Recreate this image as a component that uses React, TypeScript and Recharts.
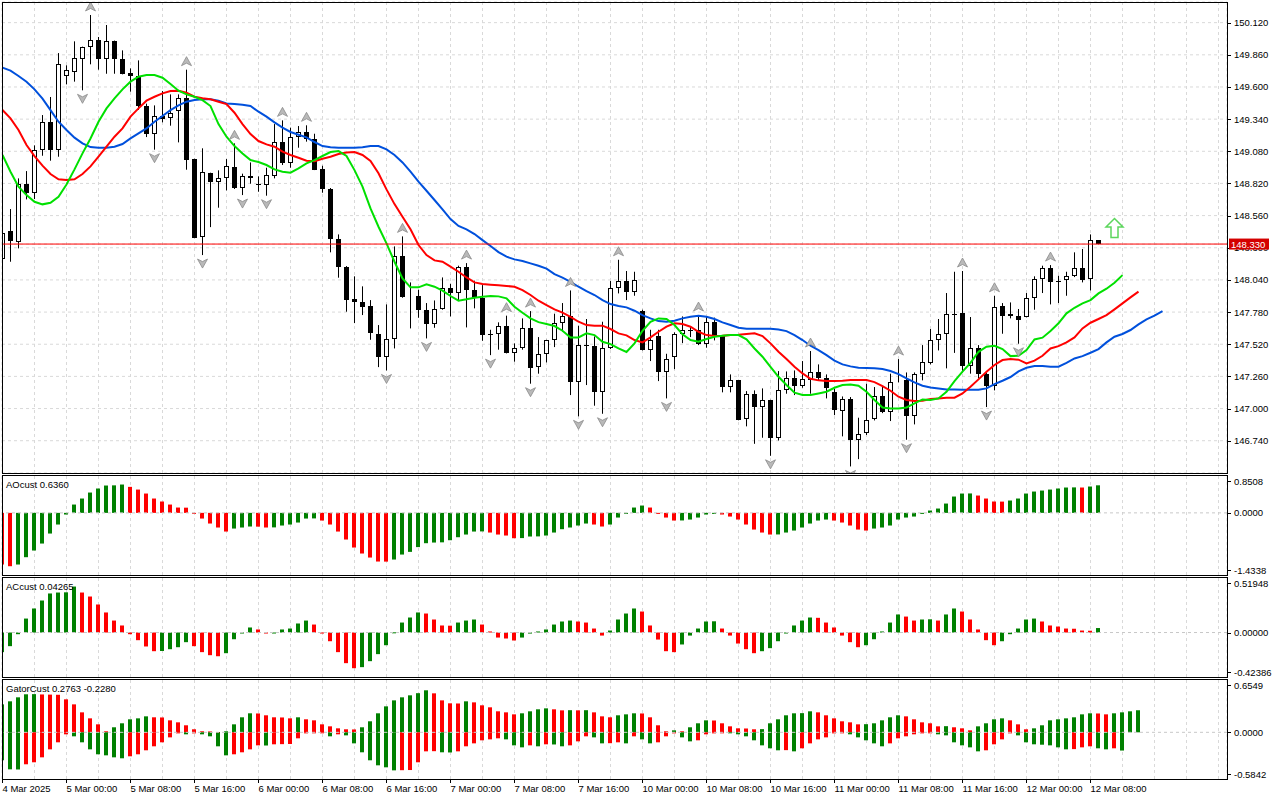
import React from 'react';
import {
  ComposedChart,
  Bar,
  Line,
  Scatter,
  XAxis,
  YAxis,
  CartesianGrid,
  ReferenceLine,
  Cell
} from 'recharts';

// USDJPY-like H1 candles, 4 Mar 16:00 .. 12 Mar 09:00
const opens = [
  148.21, 148.438, 148.343, 148.812, 148.74, 149.087, 149.314, 149.087, 149.691, 149.724,
  149.823, 149.92, 149.977, 149.823, 149.969, 149.823, 149.713, 149.686, 149.449, 149.222,
  149.368, 149.346, 149.405, 149.508, 149.017, 148.387, 148.904, 148.829, 148.861, 148.953,
  148.786, 148.877, 148.818, 148.804, 148.877, 149.152, 148.988, 149.195, 149.233, 149.179,
  148.937, 148.778, 148.368, 148.147, 147.883, 147.861, 147.829, 147.602, 147.414, 147.559,
  148.23, 147.904, 147.912, 147.794, 147.686, 147.805, 147.972, 147.931, 148.144, 147.955,
  147.896, 147.6, 147.6, 147.67, 147.449, 147.492, 147.648, 147.335, 147.438, 147.551,
  147.691, 147.751, 147.217, 147.513, 147.508, 147.131, 147.486, 147.972, 148.031, 147.945,
  147.788, 147.476, 147.583, 147.292, 147.414, 147.605, 147.637, 147.632, 147.519, 147.697,
  147.589, 147.174, 147.228, 146.915, 147.12, 147.012, 147.066, 146.759, 147.147, 147.249,
  147.179, 147.233, 147.292, 147.249, 147.131, 146.98, 147.077, 146.742, 146.802, 146.915,
  147.104, 146.969, 147.217, 147.228, 146.937, 147.282, 147.368, 147.551, 147.6, 147.767,
  147.772, 147.346, 147.486, 147.282, 147.185, 147.826, 147.751, 147.751, 147.74, 147.891,
  148.047, 148.133, 148.031, 148.036, 148.069, 148.139, 148.047, 148.36
];
const highs = [
  148.43, 148.613, 148.861, 148.92, 149.128, 149.373, 149.519, 149.874, 149.775, 149.969,
  149.926, 150.182, 150.004, 150.101, 149.975, 149.896, 149.75, 149.815, 149.465, 149.451,
  149.567, 149.54, 149.54, 149.74, 149.02, 149.104, 148.907, 148.926, 149.017, 149.144,
  148.899, 148.99, 148.877, 148.947, 149.3, 149.33, 149.271, 149.284, 149.29, 149.222,
  148.963, 148.783, 148.408, 148.152, 148.069, 147.988, 147.877, 147.675, 147.842, 148.311,
  148.392, 148.02, 147.961, 147.853, 147.874, 148.06, 148.009, 148.155, 148.176, 148.034,
  147.998, 147.637, 147.697, 147.751, 147.527, 147.729, 147.788, 147.578, 147.556, 147.767,
  147.853, 147.955, 147.67, 147.724, 147.583, 147.702, 148.031, 148.203, 148.112, 148.106,
  147.799, 147.637, 147.637, 147.443, 147.616, 147.745, 147.659, 147.756, 147.74, 147.735,
  147.595, 147.276, 147.232, 147.141, 147.147, 147.163, 147.071, 147.303, 147.3, 147.308,
  147.384, 147.465, 147.357, 147.276, 147.158, 147.098, 147.093, 146.926, 147.201, 147.174,
  147.179, 147.282, 147.4, 147.292, 147.292, 147.513, 147.643, 147.724, 147.934, 148.106,
  148.112, 147.74, 147.513, 147.29, 147.912, 147.853, 147.858, 147.805, 147.934, 148.069,
  148.155, 148.16, 148.074, 148.106, 148.263, 148.29, 148.408, 148.362
];
const lows = [
  148.2, 148.187, 148.295, 148.691, 148.694, 149.044, 149.004, 149.036, 149.621, 149.643,
  149.573, 149.783, 149.74, 149.707, 149.707, 149.702, 149.562, 149.414, 149.195, 149.093,
  149.314, 149.287, 149.152, 148.931, 148.378, 148.241, 148.467, 148.624, 148.764, 148.775,
  148.726, 148.818, 148.753, 148.721, 148.861, 148.969, 148.947, 149.109, 149.158, 148.928,
  148.745, 148.263, 148.058, 147.783, 147.691, 147.756, 147.556, 147.335, 147.308, 147.486,
  147.896, 147.648, 147.734, 147.567, 147.653, 147.799, 147.745, 147.877, 147.656, 147.81,
  147.548, 147.432, 147.476, 147.446, 147.379, 147.476, 147.201, 147.282, 147.373, 147.497,
  147.621, 147.109, 146.937, 147.19, 147.023, 146.958, 147.481, 147.931, 147.877, 147.912,
  147.47, 147.384, 147.222, 147.082, 147.319, 147.529, 147.578, 147.513, 147.492, 147.551,
  147.131, 147.131, 146.905, 146.856, 146.715, 146.764, 146.618, 146.742, 147.12, 147.109,
  147.168, 147.12, 147.228, 147.082, 146.947, 146.775, 146.532, 146.591, 146.786, 146.904,
  146.963, 146.899, 147.212, 146.748, 146.872, 147.228, 147.357, 147.47, 147.325, 147.45,
  147.292, 147.282, 147.244, 147.012, 147.147, 147.605, 147.729, 147.524, 147.737, 147.799,
  147.934, 147.842, 147.853, 147.912, 148.063, 148.02, 147.955, 148.328
];
const closes = [
  148.42, 148.352, 148.812, 148.74, 149.093, 149.314, 149.093, 149.783, 149.734, 149.831,
  149.92, 149.977, 149.829, 149.969, 149.823, 149.707, 149.686, 149.449, 149.222, 149.368,
  149.338, 149.392, 149.508, 149.012, 148.381, 148.91, 148.834, 148.861, 148.958, 148.786,
  148.877, 148.866, 148.812, 148.888, 149.152, 148.988, 149.195, 149.233, 149.179, 148.931,
  148.778, 148.368, 148.147, 147.877, 147.858, 147.823, 147.608, 147.414, 147.559, 148.23,
  147.904, 147.912, 147.794, 147.686, 147.802, 147.972, 147.931, 148.144, 147.955, 147.896,
  147.591, 147.591, 147.67, 147.449, 147.486, 147.648, 147.33, 147.438, 147.551, 147.691,
  147.751, 147.217, 147.513, 147.508, 147.131, 147.486, 147.972, 148.031, 147.945, 148.036,
  147.473, 147.551, 147.292, 147.4, 147.605, 147.637, 147.632, 147.519, 147.697, 147.589,
  147.174, 147.228, 146.91, 147.12, 147.012, 147.066, 146.759, 147.147, 147.249, 147.179,
  147.238, 147.292, 147.249, 147.163, 146.985, 147.077, 146.742, 146.796, 146.91, 147.104,
  146.974, 147.217, 147.225, 146.937, 147.282, 147.373, 147.551, 147.6, 147.767, 147.761,
  147.346, 147.486, 147.282, 147.185, 147.821, 147.751, 147.767, 147.713, 147.891, 148.047,
  148.133, 148.025, 148.025, 148.069, 148.139, 148.042, 148.36, 148.33
];

// Alligator lines as drawn (already shifted forward: jaw 8, teeth 5, lips 3)
const jaw = [
  149.756, 149.732, 149.689, 149.643, 149.581, 149.505, 149.413, 149.319, 149.252, 149.19,
  149.144, 149.114, 149.109, 149.109, 149.117, 149.139, 149.184, 149.225, 149.265, 149.319,
  149.365, 149.413, 149.451, 149.481, 149.494, 149.5, 149.5, 149.489, 149.467, 149.462,
  149.457, 149.446, 149.4, 149.36, 149.314, 149.271, 149.236, 149.214, 149.193, 149.155,
  149.122, 149.112, 149.109, 149.109, 149.109, 149.112, 149.122, 149.122, 149.095, 149.05,
  148.99, 148.915, 148.834, 148.761, 148.686, 148.61, 148.532, 148.476, 148.449, 148.411,
  148.362, 148.314, 148.265, 148.228, 148.206, 148.193, 148.174, 148.155, 148.131, 148.087,
  148.058, 148.025, 147.985, 147.95, 147.918, 147.877, 147.845, 147.829, 147.818, 147.791,
  147.756, 147.729, 147.707, 147.702, 147.71, 147.729, 147.742, 147.751, 147.742, 147.724,
  147.697, 147.675, 147.654, 147.645, 147.645, 147.645, 147.645, 147.64, 147.626, 147.594,
  147.554, 147.508, 147.473, 147.432, 147.387, 147.357, 147.341, 147.33, 147.327, 147.325,
  147.319, 147.303, 147.279, 147.244, 147.212, 147.185, 147.171, 147.163, 147.155, 147.155,
  147.152, 147.152, 147.152, 147.163, 147.198, 147.225, 147.255, 147.3, 147.33, 147.344,
  147.344, 147.338, 147.338, 147.37, 147.405, 147.424, 147.451, 147.481, 147.535, 147.581,
  147.603, 147.635, 147.681, 147.721, 147.751, 147.788
];
const teeth = [
  149.414, 149.346, 149.252, 149.131, 149.041, 148.964, 148.896, 148.853, 148.848, 148.853,
  148.896, 148.958, 149.036, 149.117, 149.198, 149.265, 149.36, 149.427, 149.489, 149.521,
  149.548, 149.567, 149.57, 149.554, 149.521, 149.508, 149.5, 149.481, 149.462, 149.392,
  149.3, 149.219, 149.163, 149.136, 149.117, 149.077, 149.05, 149.028, 149.004, 149.0,
  149.02, 149.036, 149.058, 149.071, 149.074, 149.05, 149.001, 148.902, 148.772, 148.653,
  148.551, 148.449, 148.322, 148.241, 148.198, 148.187, 148.147, 148.106, 148.06, 148.02,
  148.007, 148.001, 147.996, 147.991, 147.985, 147.958, 147.918, 147.872, 147.837, 147.802,
  147.775, 147.742, 147.702, 147.675, 147.67, 147.67, 147.643, 147.608, 147.592, 147.554,
  147.535, 147.575, 147.621, 147.662, 147.689, 147.683, 147.662, 147.621, 147.594, 147.586,
  147.589, 147.594, 147.597, 147.603, 147.608, 147.586, 147.527, 147.459, 147.4, 147.338,
  147.284, 147.241, 147.228, 147.222, 147.222, 147.225, 147.23, 147.23, 147.23, 147.214,
  147.182, 147.144, 147.096, 147.069, 147.061, 147.063, 147.077, 147.082, 147.088, 147.088,
  147.122, 147.176, 147.236, 147.298, 147.352, 147.392, 147.4, 147.395, 147.365, 147.387,
  147.427, 147.486, 147.505, 147.535, 147.575, 147.648, 147.694, 147.724, 147.756, 147.802,
  147.85, 147.899, 147.945
];
const lips = [
  149.05, 148.915, 148.794, 148.726, 148.672, 148.651, 148.664, 148.713, 148.812, 148.934,
  149.063, 149.184, 149.319, 149.427, 149.508, 149.581, 149.643, 149.683, 149.697, 149.697,
  149.675, 149.624, 149.57, 149.54, 149.521, 149.494, 149.446, 149.3, 149.198, 149.122,
  149.063, 149.009, 148.993, 148.969, 148.934, 148.915, 148.907, 148.942, 148.982, 149.009,
  149.042, 149.074, 149.082, 149.042, 148.928, 148.794, 148.618, 148.47, 148.335, 148.187,
  148.052, 147.98, 147.98, 148.004, 147.985, 147.953, 147.91, 147.872, 147.883, 147.896,
  147.904, 147.91, 147.907, 147.891, 147.823, 147.775, 147.729, 147.699, 147.683, 147.667,
  147.629, 147.575, 147.575, 147.608, 147.594, 147.54, 147.521, 147.486, 147.457, 147.527,
  147.629, 147.702, 147.729, 147.724, 147.675, 147.6, 147.554, 147.54, 147.562, 147.581,
  147.589, 147.594, 147.594, 147.559, 147.486, 147.419, 147.338, 147.257, 147.19, 147.128,
  147.109, 147.109, 147.122, 147.136, 147.168, 147.19, 147.195, 147.185, 147.136, 147.069,
  147.009, 147.001, 147.001, 147.009, 147.042, 147.074, 147.069, 147.082, 147.136, 147.222,
  147.298, 147.37, 147.459, 147.5, 147.508, 147.481, 147.424, 147.427, 147.473, 147.559,
  147.573, 147.627, 147.689, 147.77, 147.815, 147.85, 147.877, 147.931, 147.969, 148.017,
  148.079
];

const aoValues = [
  -1.192, -1.231, -1.192, -1.023, -0.869, -0.708, -0.477, -0.269, -0.038, 0.192,
  0.331, 0.469, 0.562, 0.631, 0.635, 0.654, 0.6, 0.538, 0.446, 0.331,
  0.262, 0.192, 0.123, 0.12, -0.01, -0.131, -0.246, -0.338, -0.431, -0.362,
  -0.338, -0.315, -0.318, -0.338, -0.335, -0.292, -0.269, -0.223, -0.131, -0.128,
  -0.177, -0.269, -0.431, -0.615, -0.8, -0.938, -1.031, -1.123, -1.125, -1.077,
  -0.962, -0.9, -0.79, -0.7, -0.685, -0.68, -0.631, -0.562, -0.5, -0.431,
  -0.428, -0.454, -0.5, -0.523, -0.585, -0.582, -0.546, -0.543, -0.523, -0.454,
  -0.377, -0.338, -0.292, -0.246, -0.269, -0.315, -0.269, -0.108, -0.015, 0.123,
  0.169, 0.123, -0.015, -0.108, -0.177, -0.175, -0.154, -0.108, -0.038, -0.015,
  -0.038, -0.085, -0.154, -0.269, -0.385, -0.454, -0.5, -0.498, -0.454, -0.408,
  -0.338, -0.246, -0.177, -0.154, -0.177, -0.223, -0.292, -0.385, -0.408, -0.362,
  -0.338, -0.292, -0.154, -0.108, -0.085, -0.015, 0.054, 0.1, 0.215, 0.377,
  0.446, 0.448, 0.4, 0.331, 0.262, 0.26, 0.285, 0.331, 0.446, 0.492,
  0.515, 0.538, 0.562, 0.585, 0.588, 0.585, 0.608, 0.636
];
const acValues = [
  -0.187, -0.13, -0.016, 0.133, 0.229, 0.305, 0.372, 0.381, 0.383, 0.438,
  0.381, 0.343, 0.267, 0.191, 0.114, 0.067, -0.016, -0.073, -0.133, -0.178,
  -0.176, -0.159, -0.14, -0.092, -0.13, -0.187, -0.216, -0.226, -0.197, -0.064,
  -0.006, 0.048, 0.029, -0.006, -0.003, 0.029, 0.038, 0.086, 0.114, 0.076,
  -0.006, -0.083, -0.187, -0.292, -0.34, -0.33, -0.273, -0.206, -0.121, 0.002,
  0.095, 0.143, 0.191, 0.181, 0.124, 0.067, 0.065, 0.095, 0.114, 0.124,
  0.076, 0.01, -0.048, -0.057, -0.076, -0.048, -0.01, 0.01, 0.029, 0.076,
  0.105, 0.114, 0.105, 0.095, 0.038, -0.029, 0.019, 0.124, 0.181, 0.229,
  0.2, 0.067, -0.067, -0.178, -0.187, -0.114, -0.029, 0.038, 0.105, 0.107,
  0.038, -0.029, -0.105, -0.159, -0.197, -0.178, -0.149, -0.083, -0.006, 0.067,
  0.114, 0.143, 0.14, 0.095, 0.048, -0.029, -0.092, -0.14, -0.121, -0.064,
  0.01, 0.095, 0.172, 0.152, 0.114, 0.124, 0.126, 0.114, 0.172, 0.229,
  0.2, 0.124, 0.029, -0.073, -0.121, -0.083, -0.016, 0.038, 0.124, 0.133,
  0.105, 0.067, 0.057, 0.038, 0.036, 0.019, 0.017, 0.04265
];
const gatorUpper = [
  0.35, 0.388, 0.438, 0.476, 0.478, 0.474, 0.472, 0.47, 0.413, 0.35,
  0.25, 0.175, 0.1, 0.013, 0.063, 0.113, 0.163, 0.175, 0.2, 0.188,
  0.186, 0.15, 0.125, 0.088, 0.038, 0.013, 0.011, 0.004, 0.013, 0.1,
  0.188, 0.238, 0.236, 0.213, 0.188, 0.186, 0.175, 0.188, 0.163, 0.15,
  0.1, 0.075, 0.05, 0.038, 0.036, 0.063, 0.138, 0.238, 0.325, 0.4,
  0.438, 0.463, 0.49, 0.526, 0.488, 0.4, 0.363, 0.361, 0.388, 0.375,
  0.338, 0.313, 0.263, 0.25, 0.225, 0.238, 0.263, 0.288, 0.3, 0.288,
  0.275, 0.277, 0.275, 0.277, 0.25, 0.2, 0.188, 0.213, 0.225, 0.238,
  0.236, 0.188, 0.088, 0.013, 0.025, 0.013, 0.063, 0.113, 0.15, 0.148,
  0.113, 0.075, 0.05, 0.048, 0.038, 0.04, 0.113, 0.163, 0.213, 0.238,
  0.24, 0.263, 0.25, 0.213, 0.175, 0.138, 0.125, 0.1, 0.102, 0.113,
  0.15, 0.188, 0.213, 0.2, 0.163, 0.125, 0.113, 0.075, 0.077, 0.063,
  0.05, 0.025, 0.075, 0.113, 0.163, 0.175, 0.15, 0.1, 0.038, 0.05,
  0.088, 0.15, 0.163, 0.175, 0.188, 0.225, 0.238, 0.236, 0.225, 0.238,
  0.25, 0.263, 0.2763
];
const gatorLower = [
  -0.35, -0.463, -0.465, -0.4, -0.375, -0.313, -0.213, -0.125, -0.025, -0.05,
  -0.125, -0.213, -0.275, -0.288, -0.313, -0.325, -0.3, -0.275, -0.225, -0.175,
  -0.125, -0.063, -0.013, -0.025, -0.013, -0.025, -0.05, -0.175, -0.288, -0.275,
  -0.25, -0.213, -0.163, -0.165, -0.15, -0.148, -0.146, -0.075, -0.013, -0.005,
  -0.003, -0.05, -0.025, -0.038, -0.138, -0.25, -0.35, -0.413, -0.438, -0.476,
  -0.474, -0.472, -0.375, -0.238, -0.236, -0.25, -0.252, -0.238, -0.175, -0.138,
  -0.1, -0.088, -0.075, -0.088, -0.163, -0.188, -0.163, -0.175, -0.15, -0.152,
  -0.175, -0.163, -0.113, -0.05, -0.063, -0.138, -0.136, -0.125, -0.138, -0.05,
  -0.088, -0.138, -0.125, -0.05, -0.013, -0.063, -0.113, -0.1, -0.025, -0.013,
  -0.005, -0.008, -0.025, -0.05, -0.1, -0.163, -0.2, -0.225, -0.223, -0.238,
  -0.2, -0.138, -0.088, -0.063, -0.013, -0.004, -0.025, -0.063, -0.1, -0.138,
  -0.175, -0.138, -0.075, -0.05, -0.025, -0.013, -0.005, -0.025, -0.038, -0.125,
  -0.163, -0.188, -0.238, -0.225, -0.15, -0.088, -0.013, -0.038, -0.125, -0.15,
  -0.155, -0.163, -0.188, -0.213, -0.21, -0.188, -0.175, -0.2, -0.213, -0.2,
  -0.228
];

const fractalUpBars = [11, 23, 29, 35, 38, 50, 58, 63, 66, 71, 77, 87, 101, 112, 120, 124, 131];
const fractalDownBars = [10, 19, 25, 30, 33, 48, 53, 61, 66, 72, 75, 83, 96, 106, 113, 123, 127];
const signalArrow = { i: 139, p: 148.46 };

const priceTicks = [
  150.12, 149.86, 149.6, 149.34, 149.08, 148.82, 148.56, 148.3, 148.04, 147.78, 147.52, 147.26, 147.0, 146.74
];
const timeLabels = [
  '4 Mar 2025', '5 Mar 00:00', '5 Mar 08:00', '5 Mar 16:00', '6 Mar 00:00', '6 Mar 08:00',
  '6 Mar 16:00', '7 Mar 00:00', '7 Mar 08:00', '7 Mar 16:00', '10 Mar 00:00', '10 Mar 08:00',
  '10 Mar 16:00', '11 Mar 00:00', '11 Mar 08:00', '11 Mar 16:00', '12 Mar 00:00', '12 Mar 08:00'
];
const timeLabelBars = [0, 8, 16, 24, 32, 40, 48, 56, 64, 72, 80, 88, 96, 104, 112, 120, 128, 136];
const gridBars = [
  4, 8, 12, 16, 20, 24, 28, 32, 36, 40, 44, 48, 52, 56, 60, 64, 68, 72, 76,
  80, 84, 88, 92, 96, 100, 104, 108, 112, 116, 120, 124, 128, 132, 136, 140, 144, 148, 152
];

const FONT = '"Liberation Sans", Arial, sans-serif';
const GREEN = '#008000';
const RED = '#ff0000';
const GRID = '#d9d9d9';
const TICK_SIZE = 6;
const TICK_MARGIN = 2;
const X_DOMAIN: [number, number] = [-0.0625, 153.0625];
const PRICE_DOMAIN: [number, number] = [146.479, 150.287];
const AO_DOMAIN: [number, number] = [-1.4338, 0.8508];
const AC_DOMAIN: [number, number] = [-0.42386, 0.51948];
const GATOR_DOMAIN: [number, number] = [-0.5842, 0.6549];

const lastClose = closes[closes.length - 1];

const rows = jaw.map((_, i) => ({
  i,
  candle: i < opens.length ? [lows[i], highs[i]] : null,
  open: i < opens.length ? opens[i] : null,
  high: i < opens.length ? highs[i] : null,
  low: i < opens.length ? lows[i] : null,
  close: i < opens.length ? closes[i] : null,
  jaw: jaw[i],
  teeth: i < teeth.length ? teeth[i] : null,
  lips: i < lips.length ? lips[i] : null,
  ao: i < aoValues.length ? aoValues[i] : null,
  ac: i < acValues.length ? acValues[i] : null,
  gUp: i < gatorUpper.length ? gatorUpper[i] : null,
  gDn: i < gatorLower.length ? gatorLower[i] : null
}));

const fractalUpPoints = fractalUpBars.map(b => ({ i: b, p: highs[b] }));
const fractalDownPoints = fractalDownBars.map(b => ({ i: b, p: lows[b] }));

const trendColor = (arr: number[], i: number, first: string) =>
  i === 0 ? first : arr[i] > arr[i - 1] ? GREEN : RED;
const gatorColor = (arr: number[], i: number) =>
  i === 0 ? GREEN : Math.abs(arr[i]) > Math.abs(arr[i - 1]) ? GREEN : RED;

const snap = (v: number) => Math.floor(v) + 0.5;

const CandleShape = (props: any) => {
  const { x, y, width, height, payload } = props;
  if (!payload || payload.open == null || !Number.isFinite(x) || !Number.isFinite(y)) return <g />;
  const cx = snap(x + width / 2);
  const span = payload.high - payload.low;
  const h = Number.isFinite(height) ? height : 0;
  const at = (p: number) => (span > 0 ? y + ((payload.high - p) / span) * h : y);
  const up = payload.close >= payload.open;
  const top = Math.round(at(Math.max(payload.open, payload.close)));
  const bot = Math.round(at(Math.min(payload.open, payload.close)));
  let body;
  if (bot - top < 1) {
    body = <line x1={cx - 2.5} x2={cx + 2.5} y1={top + 0.5} y2={top + 0.5} stroke="#000" />;
  } else if (up) {
    body = (
      <rect x={cx - 2} y={top + 0.5} width={4} height={Math.max(bot - top - 1, 0)} fill="#fff" stroke="#000" />
    );
  } else {
    body = <rect x={cx - 2.5} y={top} width={5} height={bot - top} fill="#000" />;
  }
  return (
    <g>
      <line x1={cx} x2={cx} y1={y} y2={y + h} stroke="#000" />
      {body}
    </g>
  );
};

const HistShape = (props: any) => {
  const { x, y, width, height, fill } = props;
  if (!Number.isFinite(x) || !Number.isFinite(y) || !Number.isFinite(height)) return <g />;
  const cx = snap(x + width / 2);
  const top = Math.min(y, y + height);
  return <rect x={cx - 2.5} y={top} width={4} height={Math.max(Math.abs(height), 1)} fill={fill} />;
};

const FractalUp = (props: any) => {
  const { cx, cy } = props;
  if (!Number.isFinite(cx) || !Number.isFinite(cy)) return <g />;
  const c = snap(cx);
  return (
    <path
      d={`M${c},${cy - 13} L${c + 5},${cy - 4} L${c},${cy - 6.5} L${c - 5},${cy - 4} Z`}
      fill="#b9b9b9"
      stroke="#8a8a8a"
      strokeWidth={0.8}
    />
  );
};

const FractalDown = (props: any) => {
  const { cx, cy } = props;
  if (!Number.isFinite(cx) || !Number.isFinite(cy)) return <g />;
  const c = snap(cx);
  return (
    <path
      d={`M${c},${cy + 13} L${c + 5},${cy + 4} L${c},${cy + 6.5} L${c - 5},${cy + 4} Z`}
      fill="#b9b9b9"
      stroke="#8a8a8a"
      strokeWidth={0.8}
    />
  );
};

const SignalShape = (props: any) => {
  const { cx, cy } = props;
  if (!Number.isFinite(cx) || !Number.isFinite(cy)) return <g />;
  const c = snap(cx);
  return (
    <path
      d={`M${c},${cy - 9.5} L${c + 8.5},${cy - 1} L${c + 3.5},${cy - 1} L${c + 3.5},${cy + 9.5} L${c - 3.5},${cy + 9.5} L${c - 3.5},${cy - 1} L${c - 8.5},${cy - 1} Z`}
      fill="#fff"
      stroke="#5cd65c"
      strokeWidth={1.5}
    />
  );
};

// x given by recharts = axis edge + tick size + tick margin
const PriceTick = (props: any) => {
  const { x, y, payload } = props;
  const edge = x - TICK_SIZE - TICK_MARGIN;
  const yy = Math.round(y) + 0.5;
  if (payload.value === lastClose) {
    return (
      <g>
        <rect x={edge + 2} y={y - 5.5} width={40} height={11} fill="#d40000" />
        <text x={edge + 4} y={y + 3.5} fontSize={9.5} fontFamily={FONT} fill="#fff">
          {lastClose.toFixed(3)}
        </text>
      </g>
    );
  }
  return (
    <g>
      <line x1={edge} x2={edge + 4} y1={yy} y2={yy} stroke="#000" />
      <text x={edge + 7} y={y + 3.5} fontSize={9.5} fontFamily={FONT} fill="#000">
        {payload.value.toFixed(3)}
      </text>
    </g>
  );
};

const makeIndicatorTick = (digits: number, domain: [number, number]) => (props: any) => {
  const { x, y, payload } = props;
  const edge = x - TICK_SIZE - TICK_MARGIN;
  const v = payload.value;
  const yy = v === domain[1] ? y + 5 : v === domain[0] ? y - 5 : y;
  const ly = Math.round(yy) + 0.5;
  return (
    <g>
      <line x1={edge} x2={edge + 4} y1={ly} y2={ly} stroke="#000" />
      <text x={edge + 7} y={yy + 3.5} fontSize={9.5} fontFamily={FONT} fill="#000">
        {v.toFixed(digits)}
      </text>
    </g>
  );
};

const TimeTick = (props: any) => {
  const { x, y, payload } = props;
  const edge = y - TICK_SIZE - TICK_MARGIN;
  const idx = timeLabelBars.indexOf(payload.value);
  const c = snap(x);
  return (
    <g>
      <line x1={c} x2={c} y1={edge} y2={edge + 4} stroke="#000" />
      <text x={x} y={edge + 13} fontSize={9.5} fontFamily={FONT} fill="#000">
        {idx >= 0 ? timeLabels[idx] : ''}
      </text>
    </g>
  );
};

const gridX = (
  <XAxis
    xAxisId="grid"
    type="number"
    dataKey="i"
    domain={X_DOMAIN}
    ticks={gridBars}
    allowDataOverflow
    hide
    height={0}
  />
);

const paneStyle = (top: number): React.CSSProperties => ({ position: 'absolute', left: 0, top });

const App: React.FC = () => {
  const aoTick = makeIndicatorTick(4, AO_DOMAIN);
  const acTick = makeIndicatorTick(5, AC_DOMAIN);
  const gatorTick = makeIndicatorTick(4, GATOR_DOMAIN);

  return (
    <div
      style={{
        position: 'absolute',
        left: 0,
        top: 0,
        width: 1280,
        height: 800,
        background: '#fff',
        overflow: 'hidden'
      }}
    >
      {/* main price pane */}
      <div style={paneStyle(0)}>
        <ComposedChart width={1280} height={474} data={rows} margin={{ top: 2, right: 0, bottom: 1, left: 2 }}>
          <XAxis type="number" dataKey="i" domain={X_DOMAIN} allowDataOverflow hide height={0} />
          {gridX}
          <CartesianGrid xAxisId="grid" stroke={GRID} strokeDasharray="3 3" />
          <YAxis
            orientation="right"
            width={53}
            type="number"
            domain={PRICE_DOMAIN}
            ticks={[...priceTicks, lastClose]}
            interval={0}
            allowDataOverflow
            axisLine={false}
            tickLine={false}
            tickSize={TICK_SIZE}
            tickMargin={TICK_MARGIN}
            tick={<PriceTick />}
          />
          <Bar dataKey="candle" barSize={5} shape={<CandleShape />} isAnimationActive={false} />
          <Line type="linear" dataKey="jaw" stroke="#0050dc" strokeWidth={2} dot={false} activeDot={false} isAnimationActive={false} />
          <Line type="linear" dataKey="teeth" stroke="#ff0000" strokeWidth={2} dot={false} activeDot={false} isAnimationActive={false} />
          <Line type="linear" dataKey="lips" stroke="#00e000" strokeWidth={2} dot={false} activeDot={false} isAnimationActive={false} />
          <Scatter data={fractalUpPoints} dataKey="p" shape={<FractalUp />} isAnimationActive={false} />
          <Scatter data={fractalDownPoints} dataKey="p" shape={<FractalDown />} isAnimationActive={false} />
          <Scatter data={[signalArrow]} dataKey="p" shape={<SignalShape />} isAnimationActive={false} />
          <ReferenceLine y={lastClose} stroke="#ff0000" strokeWidth={1} />
        </ComposedChart>
      </div>

      {/* AO pane */}
      <div style={paneStyle(476)}>
        <ComposedChart width={1280} height={99} data={rows} margin={{ top: 0, right: 0, bottom: 0, left: 2 }}>
          <XAxis type="number" dataKey="i" domain={X_DOMAIN} allowDataOverflow hide height={0} />
          {gridX}
          <CartesianGrid xAxisId="grid" stroke={GRID} strokeDasharray="3 3" horizontal={false} />
          <YAxis
            orientation="right"
            width={53}
            type="number"
            domain={AO_DOMAIN}
            ticks={[AO_DOMAIN[1], 0, AO_DOMAIN[0]]}
            interval={0}
            allowDataOverflow
            axisLine={false}
            tickLine={false}
            tickSize={TICK_SIZE}
            tickMargin={TICK_MARGIN}
            tick={aoTick}
          />
          <ReferenceLine y={0} stroke="#c8c8c8" strokeDasharray="3 3" />
          <Bar dataKey="ao" barSize={4} shape={<HistShape />} isAnimationActive={false}>
            {rows.map((r, i) => (
              <Cell key={`ao-${i}`} fill={r.ao == null ? 'none' : trendColor(aoValues, i, RED)} />
            ))}
          </Bar>
        </ComposedChart>
      </div>

      {/* AC pane */}
      <div style={paneStyle(578)}>
        <ComposedChart width={1280} height={99} data={rows} margin={{ top: 0, right: 0, bottom: 0, left: 2 }}>
          <XAxis type="number" dataKey="i" domain={X_DOMAIN} allowDataOverflow hide height={0} />
          {gridX}
          <CartesianGrid xAxisId="grid" stroke={GRID} strokeDasharray="3 3" horizontal={false} />
          <YAxis
            orientation="right"
            width={53}
            type="number"
            domain={AC_DOMAIN}
            ticks={[AC_DOMAIN[1], 0, AC_DOMAIN[0]]}
            interval={0}
            allowDataOverflow
            axisLine={false}
            tickLine={false}
            tickSize={TICK_SIZE}
            tickMargin={TICK_MARGIN}
            tick={acTick}
          />
          <ReferenceLine y={0} stroke="#c8c8c8" strokeDasharray="3 3" />
          <Bar dataKey="ac" barSize={4} shape={<HistShape />} isAnimationActive={false}>
            {rows.map((r, i) => (
              <Cell key={`ac-${i}`} fill={r.ac == null ? 'none' : trendColor(acValues, i, GREEN)} />
            ))}
          </Bar>
        </ComposedChart>
      </div>

      {/* Gator pane + time axis */}
      <div style={paneStyle(680)}>
        <ComposedChart
          width={1280}
          height={120}
          data={rows}
          stackOffset="sign"
          margin={{ top: 0, right: 0, bottom: 0, left: 2 }}
        >
          <XAxis
            type="number"
            dataKey="i"
            domain={X_DOMAIN}
            ticks={timeLabelBars}
            interval={0}
            allowDataOverflow
            height={21}
            axisLine={false}
            tickLine={false}
            tickSize={TICK_SIZE}
            tickMargin={TICK_MARGIN}
            tick={<TimeTick />}
          />
          {gridX}
          <CartesianGrid xAxisId="grid" stroke={GRID} strokeDasharray="3 3" horizontal={false} />
          <YAxis
            orientation="right"
            width={53}
            type="number"
            domain={GATOR_DOMAIN}
            ticks={[GATOR_DOMAIN[1], 0, GATOR_DOMAIN[0]]}
            interval={0}
            allowDataOverflow
            axisLine={false}
            tickLine={false}
            tickSize={TICK_SIZE}
            tickMargin={TICK_MARGIN}
            tick={gatorTick}
          />
          <ReferenceLine y={0} stroke="#c8c8c8" strokeDasharray="3 3" />
          <Bar dataKey="gUp" stackId="gator" barSize={4} shape={<HistShape />} isAnimationActive={false}>
            {rows.map((r, i) => (
              <Cell key={`gu-${i}`} fill={r.gUp == null ? 'none' : gatorColor(gatorUpper, i)} />
            ))}
          </Bar>
          <Bar dataKey="gDn" stackId="gator" barSize={4} shape={<HistShape />} isAnimationActive={false}>
            {rows.map((r, i) => (
              <Cell key={`gd-${i}`} fill={r.gDn == null ? 'none' : gatorColor(gatorLower, i)} />
            ))}
          </Bar>
        </ComposedChart>
      </div>

      {/* pane frames and titles */}
      <svg width={1280} height={800} style={{ position: 'absolute', left: 0, top: 0, pointerEvents: 'none' }}>
        <rect x={2.5} y={2.5} width={1225} height={471} fill="none" stroke="#000" />
        <rect x={2.5} y={475.5} width={1225} height={100} fill="none" stroke="#000" />
        <rect x={2.5} y={577.5} width={1225} height={100} fill="none" stroke="#000" />
        <rect x={2.5} y={679.5} width={1225} height={100} fill="none" stroke="#000" />
        <text x={6} y={488} fontSize={9.5} fontFamily={FONT} fill="#000">
          {`AOcust ${aoValues[aoValues.length - 1].toFixed(4)}`}
        </text>
        <text x={6} y={590} fontSize={9.5} fontFamily={FONT} fill="#000">
          {`ACcust ${acValues[acValues.length - 1].toFixed(5)}`}
        </text>
        <text x={6} y={692} fontSize={9.5} fontFamily={FONT} fill="#000">
          {`GatorCust ${gatorUpper[gatorUpper.length - 1].toFixed(4)} ${gatorLower[gatorLower.length - 1].toFixed(4)}`}
        </text>
      </svg>
    </div>
  );
};

export default App;
